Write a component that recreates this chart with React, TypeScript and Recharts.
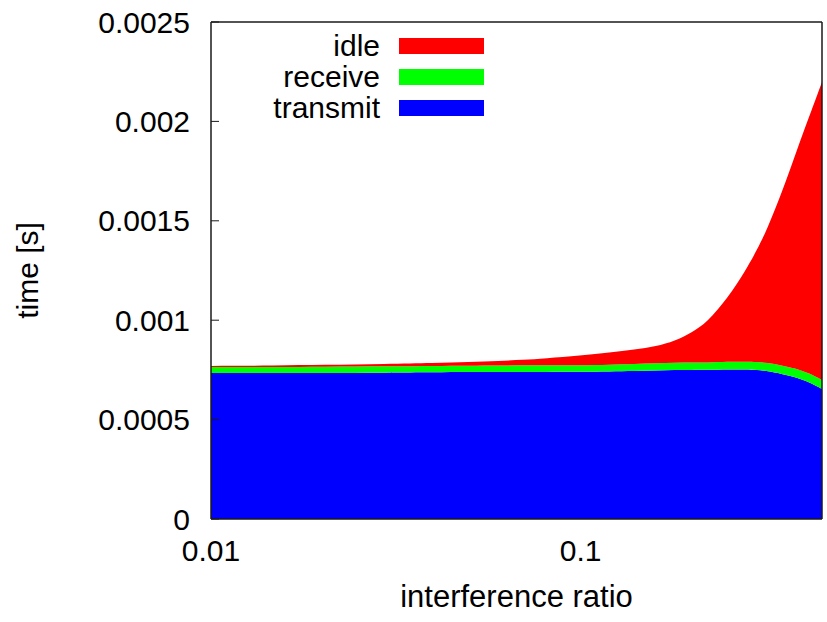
import { AreaChart, Area, XAxis, YAxis, Legend, ReferenceLine } from "recharts";

// interference ratio (log axis) and the time spent per radio state, in seconds
const RATIO = [
  0.01, 0.015, 0.02, 0.03, 0.04, 0.05, 0.06, 0.07, 0.08, 0.1, 0.12, 0.14, 0.16,
  0.18, 0.2, 0.22, 0.25, 0.28, 0.3, 0.32, 0.35, 0.38, 0.4, 0.42, 0.45,
];
const TRANSMIT = [
  0.000734, 0.000734, 0.000735, 0.000736, 0.000738, 0.000739, 0.000739, 0.00074,
  0.00074, 0.00074, 0.000742, 0.000744, 0.000747, 0.00075, 0.00075, 0.00075,
  0.000752, 0.000752, 0.00075, 0.000744, 0.00073, 0.000714, 0.000699, 0.000684,
  0.000654,
];
const RECEIVE = [
  0.00003, 0.000031, 0.000031, 0.000032, 0.000032, 0.000032, 0.000033, 0.000033,
  0.000033, 0.000033, 0.000034, 0.000035, 0.000036, 0.000036, 0.000037, 0.000037,
  0.000039, 0.00004, 0.00004, 0.000042, 0.000043, 0.000044, 0.000044, 0.000045,
  0.000045,
];
const IDLE = [
  0.000006, 0.000007, 0.000009, 0.000012, 0.000015, 0.000019, 0.000023, 0.000027,
  0.000035, 0.000049, 0.000061, 0.000073, 0.000085, 0.000109, 0.000151, 0.000203,
  0.000319, 0.00046, 0.000563, 0.000673, 0.000867, 0.001068, 0.001199, 0.001318,
  0.001499,
];

const X_DOMAIN = [0.01, 0.45];
const X_TICKS = [0.01, 0.1];
const X_TOP_TICKS = [0.02, 0.03, 0.04, 0.05, 0.06, 0.07, 0.08, 0.09, 0.1, 0.2, 0.3, 0.4];
const Y_TICKS = [0, 0.0005, 0.001, 0.0015, 0.002, 0.0025];
const Y_TICK_LABELS = ["0", "0.0005", "0.001", "0.0015", "0.002", "0.0025"];
const LEGEND_ORDER = ["idle", "receive", "transmit"];

const FONT = "'Liberation Sans', Arial, Helvetica, sans-serif";
const INK = "#1a1a1a";

const data = RATIO.map((ratio, i) => ({
  ratio,
  transmit: TRANSMIT[i],
  receive: RECEIVE[i],
  idle: IDLE[i],
}));

function YTick(props: any) {
  const { x, y, payload } = props;
  const idx = Y_TICKS.indexOf(payload.value);
  return (
    <g>
      <text x={x} y={y} dy="0.35em" textAnchor="end" fontSize={30} fill="#000" fontFamily={FONT}>
        {Y_TICK_LABELS[idx]}
      </text>
      <line x1={x + 21} x2={x + 29} y1={y} y2={y} stroke={INK} strokeWidth={1} />
    </g>
  );
}

function TopTick(props: any) {
  const { x, y, payload } = props;
  const len = payload.value === 0.1 ? 8 : 4;
  return <line x1={x} x2={x} y1={y} y2={y + len} stroke={INK} strokeWidth={1} />;
}

function YLabel(props: any) {
  const vb = props.viewBox || { x: 0, y: 22, width: 211, height: 497 };
  const cx = vb.x + 27;
  const cy = vb.y + vb.height / 2;
  return (
    <text
      x={cx}
      y={cy}
      transform={`rotate(-90 ${cx} ${cy})`}
      textAnchor="middle"
      dy="0.35em"
      fontSize={30}
      fill="#000"
      fontFamily={FONT}
    >
      time [s]
    </text>
  );
}

function StateLegend(props: any) {
  const items = [...(props.payload || [])].sort(
    (a: any, b: any) => LEGEND_ORDER.indexOf(a.value) - LEGEND_ORDER.indexOf(b.value)
  );
  return (
    <div style={{ fontFamily: FONT }}>
      {items.map((it: any) => (
        <div key={it.value} style={{ display: "flex", alignItems: "center", height: 31 }}>
          <span
            style={{ width: 380, textAlign: "right", fontSize: 30, lineHeight: "31px", color: "#000" }}
          >
            {it.value}
          </span>
          <span style={{ marginLeft: 19, width: 85, height: 16, background: it.color }} />
        </div>
      ))}
    </div>
  );
}

export default function App() {
  return (
    <div style={{ position: "absolute", left: 0, top: 0, background: "#fff", fontFamily: FONT }}>
      <AreaChart
        width={827}
        height={622}
        data={data}
        margin={{ top: 22, right: 5, bottom: 0, left: 0 }}
      >
        <XAxis
          xAxisId="bottom"
          dataKey="ratio"
          type="number"
          scale="log"
          domain={X_DOMAIN}
          allowDataOverflow
          ticks={X_TICKS}
          height={103}
          axisLine={false}
          tickLine={false}
          tickSize={0}
          tickMargin={21}
          tick={{ fontSize: 30, fill: "#000", fontFamily: FONT }}
          tickFormatter={(v: number) => String(v)}
          label={{
            value: "interference ratio",
            position: "insideBottom",
            offset: 15,
            fontSize: 31,
            fill: "#000",
            fontFamily: FONT,
          }}
        />
        <XAxis
          xAxisId="top"
          orientation="top"
          type="number"
          scale="log"
          domain={X_DOMAIN}
          allowDataOverflow
          ticks={X_TOP_TICKS}
          height={0}
          axisLine={false}
          tickLine={false}
          tickSize={0}
          tickMargin={0}
          tick={<TopTick />}
        />
        <YAxis
          yAxisId="left"
          type="number"
          domain={[0, 0.0025]}
          ticks={Y_TICKS}
          width={211}
          axisLine={false}
          tickLine={false}
          tickSize={0}
          tickMargin={21}
          tick={<YTick />}
          label={<YLabel />}
        />
        <Legend
          layout="vertical"
          align="center"
          verticalAlign="middle"
          content={<StateLegend />}
          wrapperStyle={{ left: 0, top: 30, width: 500 }}
        />
        <Area
          xAxisId="bottom"
          yAxisId="left"
          type="basis"
          dataKey="transmit"
          name="transmit"
          stackId="time"
          stroke="none"
          fill="#0000ff"
          fillOpacity={1}
          isAnimationActive={false}
        />
        <Area
          xAxisId="bottom"
          yAxisId="left"
          type="basis"
          dataKey="receive"
          name="receive"
          stackId="time"
          stroke="none"
          fill="#00ff00"
          fillOpacity={1}
          isAnimationActive={false}
        />
        <Area
          xAxisId="bottom"
          yAxisId="left"
          type="basis"
          dataKey="idle"
          name="idle"
          stackId="time"
          stroke="none"
          fill="#ff0000"
          fillOpacity={1}
          isAnimationActive={false}
        />
        {/* plot frame */}
        <ReferenceLine xAxisId="bottom" yAxisId="left" x={0.01} stroke={INK} strokeWidth={1.5} />
        <ReferenceLine xAxisId="bottom" yAxisId="left" x={0.45} stroke={INK} strokeWidth={1.5} />
        <ReferenceLine xAxisId="bottom" yAxisId="left" y={0} stroke={INK} strokeWidth={1.5} />
        <ReferenceLine xAxisId="bottom" yAxisId="left" y={0.0025} stroke={INK} strokeWidth={1.5} />
      </AreaChart>
    </div>
  );
}
